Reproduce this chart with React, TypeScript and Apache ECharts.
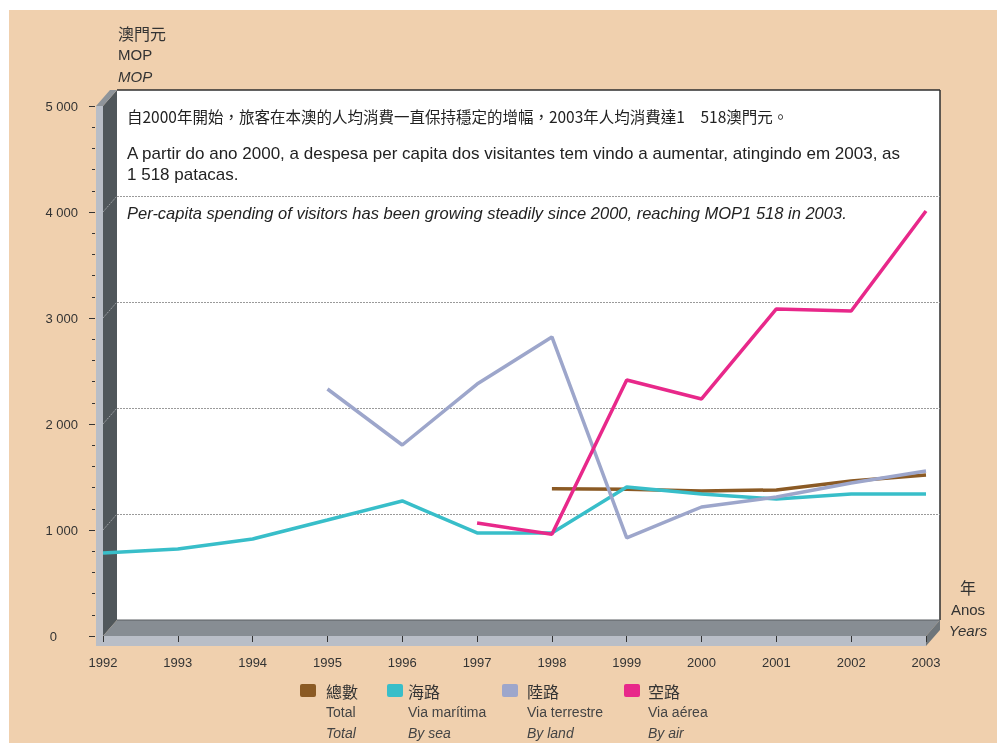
import React, { useEffect, useRef } from "react";
import * as echarts from "echarts";

const years = ["1992", "1993", "1994", "1995", "1996", "1997", "1998", "1999", "2000", "2001", "2002", "2003"];
const totalValues = [null, null, null, null, null, null, 1390, 1385, 1368, 1378, 1462, 1518];
const seaValues = [783, 821, 915, 1094, 1274, 972, 972, 1406, 1340, 1292, 1340, 1340];
const landValues = [null, null, null, 2330, 1802, 2377, 2821, 925, 1217, 1311, 1443, 1557];
const airValues = [null, null, null, null, null, 1066, 960, 2415, 2236, 3085, 3066, 4009];
const gridValues = [1000, 2000, 3000, 4000];

const legendItems = [
  { zh: "總數", pt: "Total", en: "Total", color: "#8B5A24" },
  { zh: "海路", pt: "Via marítima", en: "By sea", color: "#38BEC9" },
  { zh: "陸路", pt: "Via terrestre", en: "By land", color: "#9DA6CB" },
  { zh: "空路", pt: "Via aérea", en: "By air", color: "#E8288A" },
];

const SANS = "'Liberation Sans Narrow', 'Arial Narrow', 'Liberation Sans', Arial, sans-serif";
const CJK = "'Noto Sans CJK TC', 'Noto Sans CJK SC', sans-serif";

// geometry of the pseudo-3D box
const FX0 = 103, FX1 = 926, FY0 = 636, FY1 = 106; // front plane
const DX = 14, DY = -16; // depth offset

export default function App() {
  const ref = useRef<HTMLDivElement>(null);
  useEffect(() => {
    if (!ref.current) return;
    const chart = echarts.init(ref.current, null, { renderer: "svg" });
    const BX0 = FX0 + DX, BX1 = FX1 + DX, BY0 = FY0 + DY, BY1 = FY1 + DY;
    const yFront = (v: number) => FY0 - ((FY0 - FY1) * v) / 5000;

    const graphics: any[] = [
      { type: "rect", z: -10, shape: { x: 9, y: 10, width: 988, height: 733 }, style: { fill: "#F0D0AE" } },
      { type: "rect", z: -9, shape: { x: BX0, y: BY1, width: BX1 - BX0, height: BY0 - BY1 }, style: { fill: "#FFFFFF" } },
      { type: "polygon", z: -8, shape: { points: [[FX0, FY1], [BX0, BY1], [BX0, BY0], [FX0, FY0]] }, style: { fill: "#50575B" } },
      { type: "polygon", z: -8, shape: { points: [[FX0, FY0], [BX0, BY0], [BX1, BY0], [FX1, FY0]] }, style: { fill: "#878D93" } },
      { type: "rect", z: -7, shape: { x: 96, y: FY1, width: FX0 - 96, height: FY0 + 10 - FY1 }, style: { fill: "#B9BEC7" } },
      { type: "polygon", z: -7, shape: { points: [[96, FY1], [FX0, FY1], [BX0, BY1], [96 + DX, BY1]] }, style: { fill: "#8E949A" } },
      { type: "rect", z: -7, shape: { x: 96, y: FY0, width: FX1 - 96, height: 10 }, style: { fill: "#B9BEC7" } },
      { type: "polygon", z: -7, shape: { points: [[FX1, FY0], [BX1, BY0], [BX1, BY0 + 10], [FX1, FY0 + 10]] }, style: { fill: "#6E757A" } },
      { type: "line", z: -6, shape: { x1: BX0, y1: BY1, x2: BX1, y2: BY1 }, style: { stroke: "#2E2E2E", lineWidth: 1.5 } },
      { type: "line", z: -6, shape: { x1: BX1, y1: BY1, x2: BX1, y2: BY0 }, style: { stroke: "#2E2E2E", lineWidth: 1.5 } },
      { type: "line", z: -6, shape: { x1: BX0, y1: BY0, x2: BX1, y2: BY0 }, style: { stroke: "#5A5F63", lineWidth: 1 } },
      ...gridValues.map((v) => ({
        type: "line", z: -6,
        shape: { x1: FX0, y1: yFront(v), x2: BX0, y2: yFront(v) + DY },
        style: { stroke: "#9A9EA2", lineWidth: 1, lineDash: [2, 1] },
      })),
      // axis titles
      { type: "text", z: 10, style: { x: 118, y: 33, text: "澳門元", fill: "#333", font: `16px ${CJK}`, verticalAlign: "middle" } },
      { type: "text", z: 10, style: { x: 118, y: 54, text: "MOP", fill: "#333", font: `15px ${SANS}`, verticalAlign: "middle" } },
      { type: "text", z: 10, style: { x: 118, y: 76, text: "MOP", fill: "#333", font: `italic 15px ${SANS}`, verticalAlign: "middle" } },
      { type: "text", z: 10, style: { x: 968, y: 587, text: "年", fill: "#333", font: `16px ${CJK}`, align: "center", verticalAlign: "middle" } },
      { type: "text", z: 10, style: { x: 968, y: 609, text: "Anos", fill: "#333", font: `15px ${SANS}`, align: "center", verticalAlign: "middle" } },
      { type: "text", z: 10, style: { x: 968, y: 630, text: "Years", fill: "#333", font: `italic 15px ${SANS}`, align: "center", verticalAlign: "middle" } },
      // annotation texts
      { type: "text", z: 10, style: { x: 127, y: 116, text: "自2000年開始，旅客在本澳的人均消費一直保持穩定的增幅，2003年人均消費達1　518澳門元。", fill: "#222", font: `15.5px ${CJK}`, verticalAlign: "middle" } },
      { type: "text", z: 10, style: { x: 127, y: 153, text: "A partir do ano 2000, a despesa per capita dos visitantes tem vindo a aumentar, atingindo em 2003, as", fill: "#222", font: `17px ${SANS}`, verticalAlign: "middle" } },
      { type: "text", z: 10, style: { x: 127, y: 174, text: "1 518 patacas.", fill: "#222", font: `17px ${SANS}`, verticalAlign: "middle" } },
      { type: "text", z: 10, style: { x: 127, y: 213, text: "Per-capita spending of visitors has been growing steadily since 2000, reaching MOP1 518 in 2003.", fill: "#222", font: `italic 16.5px ${SANS}`, verticalAlign: "middle" } },
    ];

    const legendSq = [300, 387, 502, 624];
    const legendTx = [326, 408, 527, 648];
    legendItems.forEach((it, i) => {
      graphics.push(
        { type: "rect", z: 10, shape: { x: legendSq[i], y: 684, width: 16, height: 13, r: 2 }, style: { fill: it.color } },
        { type: "text", z: 10, style: { x: legendTx[i], y: 691, text: it.zh, fill: "#333", font: `16px ${CJK}`, verticalAlign: "middle" } },
        { type: "text", z: 10, style: { x: legendTx[i], y: 712, text: it.pt, fill: "#444", font: `14px ${SANS}`, verticalAlign: "middle" } },
        { type: "text", z: 10, style: { x: legendTx[i], y: 733, text: it.en, fill: "#444", font: `italic 14px ${SANS}`, verticalAlign: "middle" } }
      );
    });

    const mkSeries = (name: string, data: any[], color: string) => ({
      name,
      type: "line",
      xAxisIndex: 0,
      yAxisIndex: 0,
      data,
      showSymbol: false,
      symbol: "none",
      connectNulls: false,
      lineStyle: { color, width: 3.5 },
      itemStyle: { color },
      z: 5,
    });

    chart.setOption({
      animation: false,
      backgroundColor: "transparent",
      grid: [
        { left: FX0, right: 997 - FX1, top: FY1, bottom: 743 - FY0 },
        { left: FX0 + DX, right: 997 - FX1 - DX, top: FY1 + DY, bottom: 743 - FY0 - DY },
      ],
      xAxis: [
        {
          type: "category",
          gridIndex: 0,
          data: years,
          boundaryGap: false,
          offset: 10,
          axisLine: { show: false },
          axisTick: { show: true, length: 6, interval: 0, lineStyle: { color: "#333", width: 1 } },
          axisLabel: { interval: 0, margin: 10, fontSize: 13, color: "#333", fontFamily: SANS },
          splitLine: { show: false },
        },
        { type: "category", gridIndex: 1, data: years, boundaryGap: false, show: false },
      ],
      yAxis: [
        {
          type: "value",
          gridIndex: 0,
          min: 0,
          max: 5000,
          interval: 1000,
          offset: 8,
          axisLine: { show: false },
          axisTick: { show: true, length: 6, lineStyle: { color: "#333", width: 1 } },
          minorTick: { show: true, splitNumber: 5, length: 3, lineStyle: { color: "#333", width: 1 } },
          axisLabel: {
            margin: 17,
            fontSize: 13,
            color: "#333",
            fontFamily: SANS,
            formatter: (v: number) => (v === 0 ? "{z|0}" : String(v).replace(/(\d)(?=(\d{3})+$)/g, "$1 ")),
            rich: { z: { fontSize: 13, fontFamily: SANS, color: "#333", padding: [0, 21, 0, 0] } },
          },
          splitLine: { show: false },
          minorSplitLine: { show: false },
        },
        {
          type: "value",
          gridIndex: 1,
          min: 0,
          max: 5000,
          interval: 1000,
          axisLine: { show: false },
          axisTick: { show: false },
          axisLabel: { show: false },
          splitLine: { show: true, showMinLine: false, showMaxLine: false, lineStyle: { color: "#9A9A9A", width: 1, type: [2, 1] } },
        },
      ],
      graphic: { elements: graphics },
      series: [
        mkSeries("總數", totalValues, legendItems[0].color),
        mkSeries("海路", seaValues, legendItems[1].color),
        mkSeries("陸路", landValues, legendItems[2].color),
        mkSeries("空路", airValues, legendItems[3].color),
      ],
    });
    return () => chart.dispose();
  }, []);
  return <div ref={ref} style={{ position: "fixed", left: 0, top: 0, width: 997, height: 743 }} />;
}
